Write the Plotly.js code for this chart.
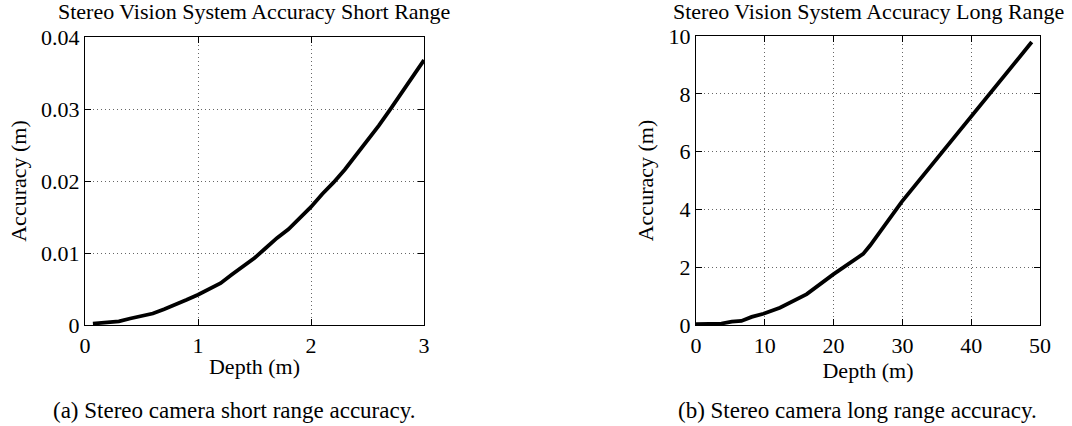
<!DOCTYPE html>
<html>
<head>
<meta charset="utf-8">
<script src="https://cdn.plot.ly/plotly-3.0.1.min.js"></script>
<style>html,body{margin:0;padding:0;background:#fff;}#chart{width:1072px;height:426px;}</style>
</head>
<body>
<div id="chart"></div>
<script>
// Short range data (depth m, accuracy m)
const shortDepth = [0.07,0.2,0.3,0.4,0.5,0.6,0.7,0.8,0.9,1.0,1.1,1.2,1.3,1.4,1.5,1.6,1.7,1.8,1.9,2.0,2.1,2.2,2.3,2.4,2.5,2.6,2.7,2.8,2.9,3.0];
const shortAcc   = [0.0002,0.0003,0.0005,0.0009,0.0012,0.0016,0.0022,0.0028,0.0035,0.0042,0.0050,0.0058,0.0070,0.0081,0.0093,0.0107,0.0121,0.0133,0.0148,0.0164,0.0182,0.0198,0.0216,0.0236,0.0256,0.0277,0.0299,0.0322,0.0345,0.0368];
// Long range data
const longDepth = [0,3.7,5.2,6.6,8.1,9.8,12.2,16.1,20,24.3,25.3,29.9,48.8];
const longAcc   = [0.03,0.05,0.12,0.14,0.28,0.39,0.6,1.07,1.76,2.46,2.75,4.26,9.79];

const titles = ["Stereo Vision System Accuracy Short Range","Stereo Vision System Accuracy Long Range"];
const captions = ["(a) Stereo camera short range accuracy.","(b) Stereo camera long range accuracy."];
const xTitle = "Depth (m)";
const yTitle = "Accuracy (m)";

const W = 1072, H = 426;
const font = {family: "Liberation Serif, Times New Roman, serif", color: "#000", size: 22};

function axisBase(extra){
  return Object.assign({
    showline: true, linecolor: "#000", linewidth: 1.2, mirror: "ticks",
    ticks: "inside", ticklen: 6, tickcolor: "#000", tickwidth: 1,
    showgrid: true, gridcolor: "#666", griddash: "1px,3px", gridwidth: 1,
    zeroline: false, tickfont: {family: font.family, size: 22, color: "#000"},
    fixedrange: true
  }, extra);
}

const px = v => v / W;
const py = v => 1 - v / H;

const data = [
  {x: shortDepth, y: shortAcc, type: "scatter", mode: "lines", line: {color: "#000", width: 3.8}, xaxis: "x", yaxis: "y", hoverinfo: "skip"},
  {x: longDepth, y: longAcc, type: "scatter", mode: "lines", line: {color: "#000", width: 3.8}, xaxis: "x2", yaxis: "y2", hoverinfo: "skip"}
];

const layout = {
  width: W, height: H,
  margin: {l: 0, r: 0, t: 0, b: 0},
  paper_bgcolor: "#fff", plot_bgcolor: "#fff",
  showlegend: false,
  font: font,
  xaxis: axisBase({domain: [px(85), px(424)], range: [0, 3], tickvals: [0,1,2,3], ticktext: ["0","1","2","3"], anchor: "y",
    title: {text: xTitle, font: {family: font.family, size: 22}, standoff: 2}}),
  yaxis: axisBase({domain: [py(325), py(37)], range: [0, 0.04], tickvals: [0,0.01,0.02,0.03,0.04], ticktext: ["0","0.01","0.02","0.03","0.04"], anchor: "x",
    title: {text: yTitle, font: {family: font.family, size: 22}, standoff: 8}}),
  xaxis2: axisBase({domain: [px(696), px(1040)], range: [0, 50], tickvals: [0,10,20,30,40,50], ticktext: ["0","10","20","30","40","50"], anchor: "y2",
    title: {text: xTitle, font: {family: font.family, size: 22}, standoff: 2}}),
  yaxis2: axisBase({domain: [py(325), py(36)], range: [0, 10], tickvals: [0,2,4,6,8,10], ticktext: ["0","2","4","6","8","10"], anchor: "x2",
    title: {text: yTitle, font: {family: font.family, size: 22}, standoff: 8}}),
  annotations: [
    {text: titles[0], xref: "paper", yref: "paper", x: px(254), y: py(11), xanchor: "center", yanchor: "middle", showarrow: false, font: {family: font.family, size: 22}},
    {text: titles[1], xref: "paper", yref: "paper", x: px(868), y: py(11), xanchor: "center", yanchor: "middle", showarrow: false, font: {family: font.family, size: 22}},
    {text: captions[0], xref: "paper", yref: "paper", x: px(234), y: py(410), xanchor: "center", yanchor: "middle", showarrow: false, font: {family: font.family, size: 23}},
    {text: captions[1], xref: "paper", yref: "paper", x: px(857), y: py(410), xanchor: "center", yanchor: "middle", showarrow: false, font: {family: font.family, size: 23}}
  ]
};

Plotly.newPlot("chart", data, layout, {staticPlot: true, displayModeBar: false});
</script>
</body>
</html>
